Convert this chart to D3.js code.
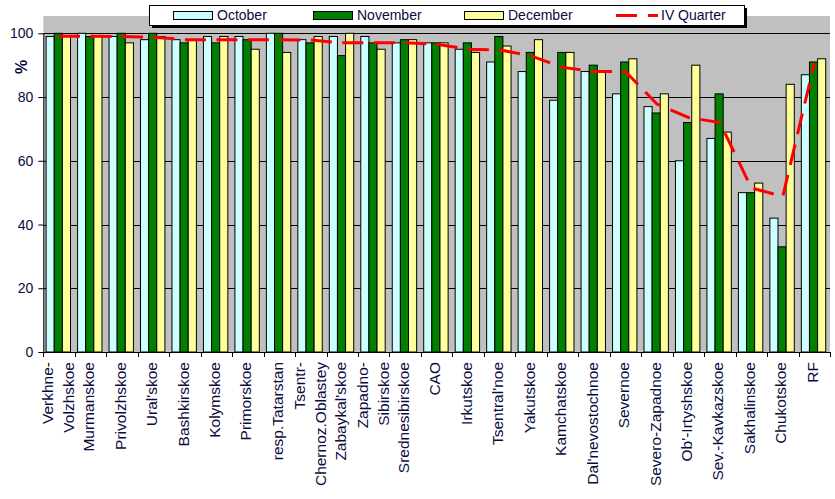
<!DOCTYPE html>
<html><head><meta charset="utf-8">
<script src="https://cdn.jsdelivr.net/npm/d3@7"></script>
<style>
body{margin:0;background:#fff}
text{font-family:Arial,'Liberation Sans',sans-serif;fill:#0a0a40}
</style>
</head><body>
<svg id="c" width="835" height="499"></svg>
<script>
const categories = ["Verkhne-\nVolzhskoe","Murmanskoe","Privolzhskoe","Ural'skoe","Bashkirskoe","Kolymskoe","Primorskoe","resp.Tatarstan","Tsentr-\nChernoz.Oblastey","Zabaykal'skoe","Zapadno-\nSibirskoe","Srednesibirskoe","CAO","Irkutskoe","Tsentral'noe","Yakutskoe","Kamchatskoe","Dal'nevostochnoe","Severnoe","Severo-Zapadnoe","Ob'-Irtyshskoe","Sev.-Kavkazskoe","Sakhalinskoe","Chukotskoe","RF"];
const october  = [99,100,99,98,98,99,99,100,98,99,99,97,97,95,91,88,79,88,81,77,60,67,50,42,87];
const november = [100,99,100,100,97,97,98,100,97,93,97,98,97,97,99,94,94,90,91,75,72,81,50,33,91];
const december = [99,99,97,99,98,99,95,94,99,100,95,98,97,94,96,98,94,88,92,81,90,69,53,84,92];
const quarter  = [99.1,99.1,99,98.8,98,98,98,98,97.9,97,97,97,96.6,95,94.8,92.9,89.3,88,88,77.8,73.6,72,51.5,48.8,90.6];
const seriesNames = ["October","November","December"];
const lineName = "IV Quarter";
const yTicks = [0,20,40,60,80,100];

const colors = {October:"#CCFFFF", November:"#008000", December:"#FFFF99"};
const seriesData = {October:october, November:november, December:december};

const svg = d3.select("#c");
const L = 43.3, R = 830, T = 16, B = 352;

const x0 = d3.scaleBand().domain(categories).range([L, R]).padding(0);
const step = x0.step();
const x1 = d3.scaleBand().domain(seriesNames).range([2.8, 27.2]).padding(0);
const y = d3.scaleLinear().domain([0,100]).range([B, 33.3]);

// plot background
svg.append("rect").attr("x", L).attr("y", T).attr("width", R - L).attr("height", B - T).attr("fill", "#C0C0C0");

// gridlines
svg.append("g").selectAll("line").data(yTicks.filter(d => d > 0)).join("line")
  .attr("x1", L).attr("x2", R).attr("y1", d => Math.round(y(d)) + 0.5).attr("y2", d => Math.round(y(d)) + 0.5)
  .attr("stroke", "#000").attr("stroke-width", 1);

// bars
const groups = svg.append("g").selectAll("g").data(categories).join("g")
  .attr("transform", c => `translate(${x0(c)},0)`);
groups.selectAll("rect").data((c, i) => seriesNames.map(s => ({s, v: seriesData[s][i]}))).join("rect")
  .attr("x", d => x1(d.s)).attr("width", x1.bandwidth())
  .attr("y", d => y(d.v)).attr("height", d => B - y(d.v))
  .attr("fill", d => colors[d.s]).attr("stroke", "#000").attr("stroke-width", 1);

// quarter line
const line = d3.line().x((d, i) => x0(categories[i]) + step / 2).y(d => y(d));
svg.append("path").datum(quarter).attr("d", line)
  .attr("fill", "none").attr("stroke", "#FF0000").attr("stroke-width", 3)
  .attr("stroke-dasharray", "21,10.5");

// y axis
const yAxis = d3.axisLeft(y).tickValues(yTicks).tickSize(5).tickSizeOuter(0).tickPadding(5);
const gy = svg.append("g").attr("transform", `translate(${L},0)`).call(yAxis);
gy.select(".domain").attr("stroke", "#000");
gy.selectAll(".tick line").attr("stroke", "#000");
gy.selectAll(".tick text").attr("font-size", 14).attr("fill", "#0a0a40")
  .attr("font-family", "Arial,'Liberation Sans',sans-serif");

// x axis line and boundary ticks
svg.append("line").attr("x1", L).attr("x2", R).attr("y1", B + 0.5).attr("y2", B + 0.5).attr("stroke", "#000");
svg.append("g").selectAll("line").data(d3.range(categories.length + 1)).join("line")
  .attr("x1", i => Math.round(L + i * step) + 0.5).attr("x2", i => Math.round(L + i * step) + 0.5)
  .attr("y1", B).attr("y2", B + 5).attr("stroke", "#000");

// x labels
const xl = svg.append("g");
categories.forEach(c => {
  const lines = c.split("\n");
  const cx = x0(c) + step / 2;
  lines.forEach((t, j) => {
    const off = lines.length === 1 ? -1.8 : (j === 0 ? -11 : 9.5);
    xl.append("text").attr("transform", `translate(${cx + off},362) rotate(-90)`)
      .attr("text-anchor", "end").attr("dy", "0.35em").attr("font-size", 15.5).text(t);
  });
});

// y title
svg.append("text").attr("transform", "translate(21,67) rotate(-90)")
  .attr("text-anchor", "middle").attr("dy", "0.35em").attr("font-size", 16).attr("font-weight", "bold").text("%");

// legend
const lg = svg.append("g");
lg.append("rect").attr("x", 152).attr("y", 8).attr("width", 595).attr("height", 20).attr("fill", "#000");
lg.append("rect").attr("x", 149.5).attr("y", 5.5).attr("width", 595).attr("height", 20).attr("fill", "#fff").attr("stroke", "#000");
const legX = [173, 313, 464];
seriesNames.forEach((s, i) => {
  lg.append("rect").attr("x", legX[i] + 0.5).attr("y", 11.5).attr("width", 39).attr("height", 8)
    .attr("fill", colors[s]).attr("stroke", "#000");
  lg.append("text").attr("x", legX[i] + 44).attr("y", 15.5).attr("dy", "0.35em").attr("font-size", 14).text(s);
});
lg.append("line").attr("x1", 616).attr("x2", 658).attr("y1", 15.5).attr("y2", 15.5)
  .attr("stroke", "#FF0000").attr("stroke-width", 3).attr("stroke-dasharray", "21,11");
lg.append("text").attr("x", 661).attr("y", 15.5).attr("dy", "0.35em").attr("font-size", 14).text(lineName);
</script>
</body></html>
